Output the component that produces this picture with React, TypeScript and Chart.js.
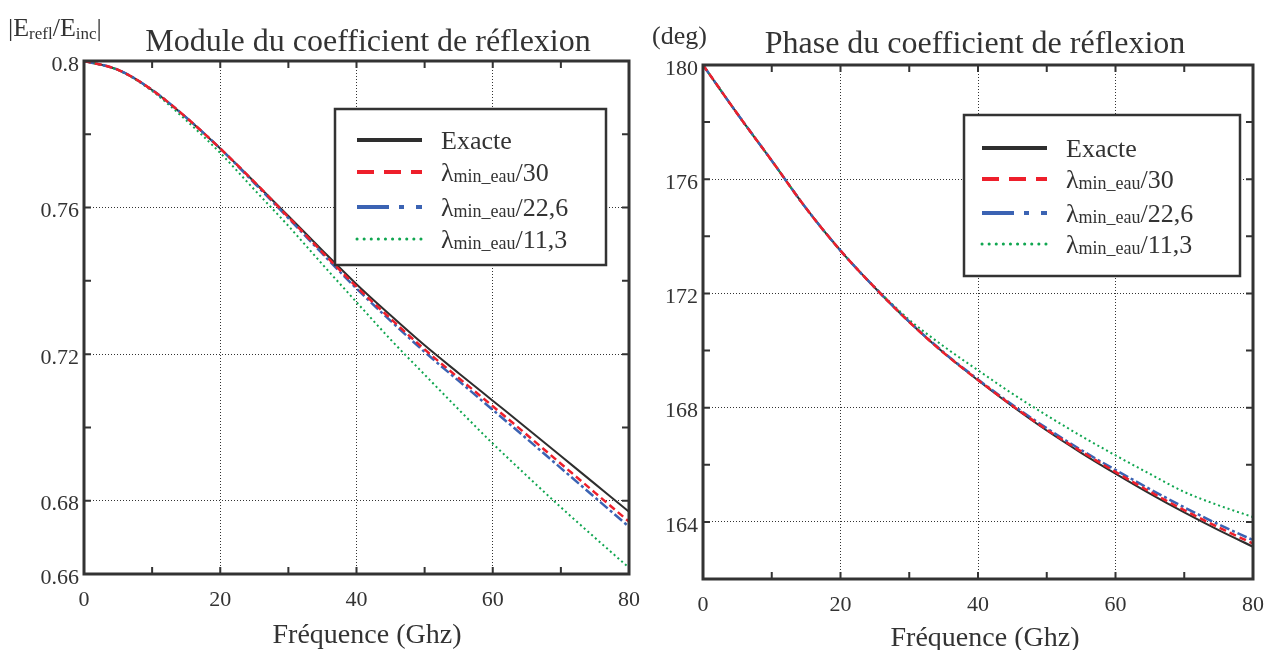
import React, { useEffect, useRef } from "react";
import { Chart, registerables } from "chart.js";

Chart.register(...registerables);

// ---------- data ----------
const freq = [0, 5, 10, 15, 20, 25, 30, 35, 40, 45, 50, 55, 60, 65, 70, 75, 80];

const modExacte = [0.8, 0.7976, 0.7921, 0.7846, 0.7761, 0.767, 0.7577, 0.7483, 0.7391, 0.7306, 0.7224, 0.7148, 0.7073, 0.6998, 0.6922, 0.6846, 0.677];
const modL30 = [0.8, 0.7976, 0.7921, 0.7846, 0.7761, 0.767, 0.7574, 0.7478, 0.7384, 0.7297, 0.7213, 0.7135, 0.7058, 0.698, 0.6901, 0.6822, 0.6743];
const modL226 = [0.8, 0.7976, 0.7921, 0.7846, 0.7761, 0.7667, 0.7571, 0.7474, 0.7379, 0.7291, 0.7206, 0.7127, 0.7048, 0.6969, 0.6889, 0.6809, 0.6729];
const modL113 = [0.8, 0.7975, 0.7918, 0.7838, 0.7749, 0.7649, 0.755, 0.7445, 0.7342, 0.724, 0.7144, 0.7049, 0.6956, 0.6868, 0.6782, 0.6699, 0.6617];

const phaseExacte = [180, 178.29, 176.65, 174.98, 173.5, 172.2, 171.0, 169.92, 168.96, 168.05, 167.2, 166.42, 165.69, 164.99, 164.33, 163.71, 163.13];
const phaseL30 = [180, 178.29, 176.65, 174.98, 173.5, 172.2, 171.0, 169.92, 168.97, 168.07, 167.23, 166.47, 165.75, 165.06, 164.41, 163.81, 163.24];
const phaseL226 = [180, 178.29, 176.65, 174.98, 173.5, 172.2, 171.01, 169.94, 168.99, 168.1, 167.28, 166.52, 165.82, 165.15, 164.51, 163.91, 163.36];
const phaseL113 = [180, 178.29, 176.65, 174.98, 173.5, 172.22, 171.08, 170.15, 169.31, 168.49, 167.73, 167.01, 166.33, 165.68, 165.05, 164.58, 164.17];

const freqTicks = [0, 20, 40, 60, 80];
const freqTickLabels = ["0", "20", "40", "60", "80"];
const freqTickMarks = [0, 10, 20, 30, 40, 50, 60, 70, 80];

const modTicks = [0.66, 0.68, 0.72, 0.76, 0.8];
const modTickLabels = ["0.66", "0.68", "0.72", "0.76", "0.8"];
const modTickMarks = [0.66, 0.68, 0.7, 0.72, 0.74, 0.76, 0.78, 0.8];

const phaseTicks = [164, 168, 172, 176, 180];
const phaseTickLabels = ["164", "168", "172", "176", "180"];
const phaseTickMarks = [162, 164, 166, 168, 170, 172, 174, 176, 178, 180];

const legendMain = ["Exacte", "λ", "λ", "λ"];
const legendSub = ["", "min_eau", "min_eau", "min_eau"];
const legendTail = ["", "/30", "/22,6", "/11,3"];

// ---------- styles ----------
const SERIF = "'Liberation Serif', 'Times New Roman', serif";
const BLACK = "#2e2e2e";
const RED = "#ee1f2b";
const BLUE = "#3b63b3";
const GREEN = "#10a650";
const AXIS = "#333333";

type LineStyle = { color: string; width: number; dash: number[]; cap: CanvasLineCap };
const seriesStyles: LineStyle[] = [
  { color: BLACK, width: 2, dash: [], cap: "butt" },
  { color: RED, width: 2.5, dash: [7, 4], cap: "butt" },
  { color: BLUE, width: 2.5, dash: [10, 3, 3, 3], cap: "butt" },
  { color: GREEN, width: 2, dash: [2, 3], cap: "butt" },
];
const legendStyles: LineStyle[] = [
  { color: BLACK, width: 4, dash: [], cap: "butt" },
  { color: RED, width: 4, dash: [17, 10], cap: "butt" },
  { color: BLUE, width: 4, dash: [32, 10, 5, 12], cap: "butt" },
  { color: GREEN, width: 3, dash: [0.1, 7], cap: "round" },
];

type PanelCfg = {
  offsetX: number;
  width: number;
  area: { left: number; top: number; right: number; bottom: number };
  yMin: number;
  yMax: number;
  yTicks: number[];
  yTickLabels: string[];
  yTickMarks: number[];
  series: number[][];
  title: string;
  titleX: number;
  titleY: number;
  xTitleX: number;
  xTitleY: number;
  legend: { x1: number; y1: number; x2: number; y2: number; rows: number[]; s1: number; s2: number; tx: number };
  drawYLabel: (ctx: CanvasRenderingContext2D) => void;
};

function drawModuleYLabel(ctx: CanvasRenderingContext2D) {
  let x = 8;
  const base = 36;
  const big = `26px ${SERIF}`;
  const small = `17px ${SERIF}`;
  const parts: [string, string, number][] = [
    ["|E", big, 0],
    ["refl", small, 3],
    ["/E", big, 0],
    ["inc", small, 3],
    ["|", big, 0],
  ];
  ctx.fillStyle = "#333";
  ctx.textAlign = "left";
  ctx.textBaseline = "alphabetic";
  for (const [t, f, dy] of parts) {
    ctx.font = f;
    ctx.fillText(t, x, base + dy);
    x += ctx.measureText(t).width;
  }
}

function drawPhaseYLabel(ctx: CanvasRenderingContext2D) {
  ctx.fillStyle = "#333";
  ctx.font = `26px ${SERIF}`;
  ctx.textAlign = "left";
  ctx.textBaseline = "alphabetic";
  ctx.fillText("(deg)", 12, 44);
}

function makeDecorPlugin(cfg: PanelCfg) {
  return {
    id: "decor",
    afterDraw(chart: any) {
      const ctx: CanvasRenderingContext2D = chart.ctx;
      const { left, top, right, bottom } = chart.chartArea;
      const xs = chart.scales.x;
      const ys = chart.scales.y;
      ctx.save();
      // inward tick marks
      ctx.strokeStyle = AXIS;
      ctx.lineWidth = 2;
      ctx.setLineDash([]);
      const tl = 7;
      for (const v of freqTickMarks) {
        const px = xs.getPixelForValue(v);
        ctx.beginPath();
        ctx.moveTo(px, bottom);
        ctx.lineTo(px, bottom - tl);
        ctx.moveTo(px, top);
        ctx.lineTo(px, top + tl);
        ctx.stroke();
      }
      for (const v of cfg.yTickMarks) {
        const py = ys.getPixelForValue(v);
        ctx.beginPath();
        ctx.moveTo(left, py);
        ctx.lineTo(left + tl, py);
        ctx.moveTo(right, py);
        ctx.lineTo(right - tl, py);
        ctx.stroke();
      }
      // frame
      ctx.lineWidth = 3;
      ctx.strokeRect(left, top, right - left, bottom - top);

      // title
      ctx.fillStyle = "#333";
      ctx.textAlign = "center";
      ctx.textBaseline = "alphabetic";
      ctx.font = `32px ${SERIF}`;
      ctx.fillText(cfg.title, cfg.titleX - cfg.offsetX, cfg.titleY);
      // x axis title
      ctx.font = `28px ${SERIF}`;
      ctx.fillText("Fréquence (Ghz)", cfg.xTitleX - cfg.offsetX, cfg.xTitleY);
      // y label
      cfg.drawYLabel(ctx);

      // legend
      const lg = cfg.legend;
      const ox = cfg.offsetX;
      ctx.fillStyle = "#ffffff";
      ctx.fillRect(lg.x1 - ox, lg.y1, lg.x2 - lg.x1, lg.y2 - lg.y1);
      ctx.strokeStyle = AXIS;
      ctx.lineWidth = 2.5;
      ctx.strokeRect(lg.x1 - ox, lg.y1, lg.x2 - lg.x1, lg.y2 - lg.y1);
      for (let i = 0; i < 4; i++) {
        const st = legendStyles[i];
        const y = lg.rows[i];
        ctx.strokeStyle = st.color;
        ctx.lineWidth = st.width;
        ctx.lineCap = st.cap;
        ctx.setLineDash(st.dash);
        ctx.beginPath();
        ctx.moveTo(lg.s1 - ox, y);
        ctx.lineTo(lg.s2 - ox, y);
        ctx.stroke();
        ctx.setLineDash([]);
        ctx.lineCap = "butt";
        ctx.fillStyle = "#333";
        ctx.textAlign = "left";
        let tx = lg.tx - ox;
        const base = y + 9;
        ctx.font = `26px ${SERIF}`;
        ctx.fillText(legendMain[i], tx, base);
        tx += ctx.measureText(legendMain[i]).width;
        if (legendSub[i]) {
          ctx.font = `18px ${SERIF}`;
          ctx.fillText(legendSub[i], tx, base + 1);
          tx += ctx.measureText(legendSub[i]).width;
          ctx.font = `26px ${SERIF}`;
          ctx.fillText(legendTail[i], tx, base);
        }
      }
      ctx.restore();
    },
  };
}

function Panel({ cfg }: { cfg: PanelCfg }) {
  const ref = useRef<HTMLCanvasElement | null>(null);
  useEffect(() => {
    if (!ref.current) return;
    const order = [1, 2, 3, 0]; // red on top, then blue, green, black
    const datasets = order.map((si) => ({
      label: legendMain[si] + legendSub[si] + legendTail[si],
      data: freq.map((f, i) => ({ x: f, y: cfg.series[si][i] })),
      borderColor: seriesStyles[si].color,
      borderWidth: seriesStyles[si].width,
      borderDash: seriesStyles[si].dash,
      borderCapStyle: seriesStyles[si].cap,
      pointRadius: 0,
      fill: false,
      cubicInterpolationMode: "monotone" as const,
    }));
    const a = cfg.area;
    const chart = new Chart(ref.current, {
      type: "line",
      data: { datasets },
      plugins: [makeDecorPlugin(cfg)],
      options: {
        animation: false,
        responsive: false,
        devicePixelRatio: 1,
        events: [],
        layout: { padding: { left: 0, top: a.top, right: cfg.width - a.right, bottom: 0 } },
        plugins: { legend: { display: false }, tooltip: { enabled: false }, title: { display: false } },
        scales: {
          x: {
            type: "linear",
            min: 0,
            max: 80,
            afterBuildTicks: (s: any) => {
              s.ticks = freqTicks.map((v) => ({ value: v }));
            },
            afterFit: (s: any) => {
              s.height = 650 - a.bottom;
              s.paddingLeft = 0;
              s.paddingRight = 0;
            },
            ticks: {
              padding: 13,
              color: "#333",
              font: { family: SERIF, size: 22 },
              maxRotation: 0,
              autoSkip: false,
              callback: (_v: any, i: number) => freqTickLabels[i],
            },
            grid: { color: "#333", lineWidth: 1, drawTicks: false },
            border: { display: false, dash: [1, 2] },
          },
          y: {
            type: "linear",
            min: cfg.yMin,
            max: cfg.yMax,
            afterBuildTicks: (s: any) => {
              s.ticks = cfg.yTicks.map((v) => ({ value: v }));
            },
            afterFit: (s: any) => {
              s.width = a.left;
              s.paddingTop = 0;
              s.paddingBottom = 0;
            },
            ticks: {
              padding: 5,
              labelOffset: 4,
              color: "#333",
              font: { family: SERIF, size: 22 },
              autoSkip: false,
              callback: (_v: any, i: number) => cfg.yTickLabels[i],
            },
            grid: { color: "#333", lineWidth: 1, drawTicks: false },
            border: { display: false, dash: [1, 2] },
          },
        },
      } as any,
    });
    return () => chart.destroy();
  }, [cfg]);
  return (
    <canvas
      ref={ref}
      width={cfg.width}
      height={650}
      style={{ position: "absolute", left: cfg.offsetX, top: 0, width: cfg.width, height: 650 }}
    />
  );
}

const leftCfg: PanelCfg = {
  offsetX: 0,
  width: 640,
  area: { left: 84, top: 61, right: 629, bottom: 574 },
  yMin: 0.66,
  yMax: 0.8,
  yTicks: modTicks,
  yTickLabels: modTickLabels,
  yTickMarks: modTickMarks,
  series: [modExacte, modL30, modL226, modL113],
  title: "Module du coefficient de réflexion",
  titleX: 368,
  titleY: 51,
  xTitleX: 367,
  xTitleY: 643,
  legend: { x1: 335, y1: 109, x2: 606, y2: 265, rows: [140, 172, 207, 239], s1: 357, s2: 422, tx: 441 },
  drawYLabel: drawModuleYLabel,
};

const rightCfg: PanelCfg = {
  offsetX: 640,
  width: 629,
  area: { left: 63, top: 65, right: 613, bottom: 579 },
  yMin: 162,
  yMax: 180,
  yTicks: phaseTicks,
  yTickLabels: phaseTickLabels,
  yTickMarks: phaseTickMarks,
  series: [phaseExacte, phaseL30, phaseL226, phaseL113],
  title: "Phase du coefficient de réflexion",
  titleX: 975,
  titleY: 53,
  xTitleX: 985,
  xTitleY: 646,
  legend: { x1: 964, y1: 115, x2: 1240, y2: 276, rows: [148, 179, 213, 244], s1: 982, s2: 1047, tx: 1066 },
  drawYLabel: drawPhaseYLabel,
};

export default function App() {
  return (
    <div style={{ position: "fixed", left: 0, top: 0, width: 1269, height: 650, background: "#fff" }}>
      <Panel cfg={leftCfg} />
      <Panel cfg={rightCfg} />
    </div>
  );
}
